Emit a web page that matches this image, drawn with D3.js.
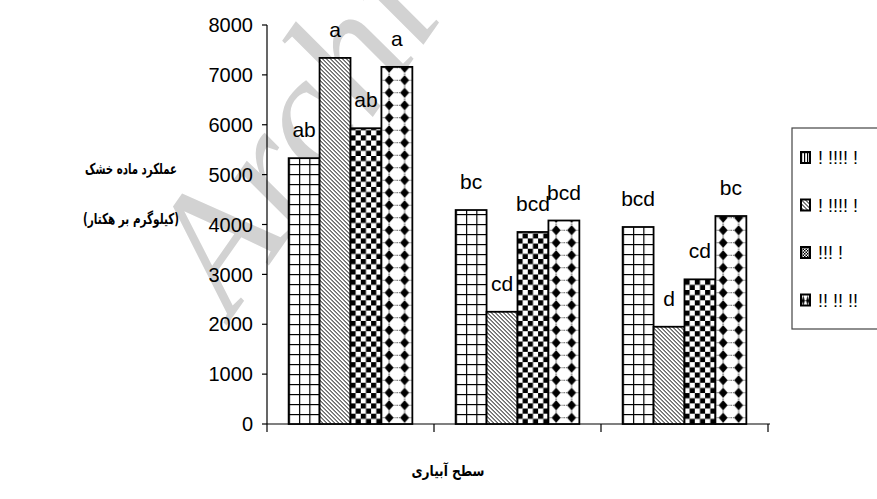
<!DOCTYPE html>
<html>
<head>
<meta charset="utf-8">
<script src="https://cdn.jsdelivr.net/npm/d3@7"></script>
<style>
  body { margin: 0; background: #fff; }
  svg { display: block; }
</style>
</head>
<body>
<div id="chart"></div>
<script>
// data
var groups = ["g1", "g2", "g3"];
var series = ["s1", "s2", "s3", "s4"];
var values = [
  [5330, 7340, 5930, 7160],
  [4290, 2250, 3850, 4080],
  [3950, 1950, 2900, 4170]
];
var letters = [
  ["ab", "a", "ab", "a"],
  ["bc", "cd", "bcd", "bcd"],
  ["bcd", "d", "cd", "bc"]
];
var legendNames = ["! !!!! !", "! !!!! !", "!!! !", "!! !! !!"];
var yTicks = [0, 1000, 2000, 3000, 4000, 5000, 6000, 7000, 8000];
var yTitle1 = "عملکرد ماده خشک";
var yTitle2 = "(کیلوگرم بر هکتار)";
var xTitle = "سطح آبیاری";

var width = 877;
var height = 499;

var svg = d3
  .select("#chart")
  .append("svg")
  .attr("width", width)
  .attr("height", height);

var defs = svg.append("defs");

// watermark behind everything
svg
  .append("text")
  .attr("transform", "translate(232,318) rotate(-55)")
  .attr("font-family", "Liberation Serif")
  .attr("font-style", "italic")
  .attr("font-size", 170)
  .attr("fill", "#d2d2d2")
  .text("Archive of SID");

var x0 = d3.scaleBand().domain(groups).range([267, 768]);
var x1 = d3
  .scaleBand()
  .domain(series)
  .range([0, x0.bandwidth()])
  .paddingInner(0)
  .paddingOuter(0.7);
var y = d3.scaleLinear().domain([0, 8000]).range([424, 25]);

// one pattern per bar so they line up with the bar edges
function makePattern(id, s, ox, oy, bw) {
  var p;
  if (s === 0) {
    p = defs.append("pattern").attr("id", id).attr("patternUnits", "userSpaceOnUse")
      .attr("width", bw / 3).attr("height", 10)
      .attr("patternTransform", "translate(" + ox + "," + oy + ")");
    p.append("rect").attr("width", bw / 3).attr("height", 10).attr("fill", "#fff");
    p.append("line").attr("x1", 0).attr("x2", 0).attr("y1", 0).attr("y2", 10)
      .attr("stroke", "#000").attr("stroke-width", 2.4);
    p.append("line").attr("x1", 0).attr("x2", bw / 3).attr("y1", 0).attr("y2", 0)
      .attr("stroke", "#000").attr("stroke-width", 2.4);
  } else if (s === 1) {
    p = defs.append("pattern").attr("id", id).attr("patternUnits", "userSpaceOnUse")
      .attr("width", 4).attr("height", 4)
      .attr("patternTransform", "translate(" + ox + "," + oy + ")");
    p.append("rect").attr("width", 4).attr("height", 4).attr("fill", "#fff");
    p.append("path").attr("d", "M-1,-1L5,5M-1,3L1,5M3,-1L5,1")
      .attr("stroke", "#000").attr("stroke-width", 1);
  } else if (s === 2) {
    var c = bw / 6;
    p = defs.append("pattern").attr("id", id).attr("patternUnits", "userSpaceOnUse")
      .attr("width", c * 2).attr("height", c * 2)
      .attr("patternTransform", "translate(" + ox + "," + oy + ")");
    p.append("rect").attr("width", c * 2).attr("height", c * 2).attr("fill", "#fff");
    p.append("rect").attr("width", c).attr("height", c).attr("fill", "#000");
    p.append("rect").attr("x", c).attr("y", c).attr("width", c).attr("height", c).attr("fill", "#000");
  } else {
    var w = bw / 2, h = 12.5;
    p = defs.append("pattern").attr("id", id).attr("patternUnits", "userSpaceOnUse")
      .attr("width", w).attr("height", h)
      .attr("patternTransform", "translate(" + ox + "," + oy + ")");
    p.append("rect").attr("width", w).attr("height", h).attr("fill", "#fff");
    p.append("line").attr("x1", 0).attr("x2", w).attr("y1", h / 2).attr("y2", h / 2)
      .attr("stroke", "#000").attr("stroke-width", 0.7).attr("stroke-dasharray", "1,1");
    p.append("line").attr("x1", w / 2).attr("x2", w / 2).attr("y1", 0).attr("y2", h)
      .attr("stroke", "#000").attr("stroke-width", 0.7).attr("stroke-dasharray", "1,1");
    var r = Math.min(4.5, w / 3);
    p.append("path")
      .attr("d", "M" + w / 2 + "," + (h / 2 - 5) + "L" + (w / 2 + r) + "," + h / 2 +
        "L" + w / 2 + "," + (h / 2 + 5) + "L" + (w / 2 - r) + "," + h / 2 + "Z")
      .attr("fill", "#000");
  }
}

// axes
svg.append("line").attr("x1", 267).attr("x2", 267).attr("y1", y(8000)).attr("y2", y(0))
  .attr("stroke", "#000").attr("stroke-width", 1.2);
svg.append("line").attr("x1", 267).attr("x2", 770).attr("y1", y(0)).attr("y2", y(0))
  .attr("stroke", "#000").attr("stroke-width", 1.2);

svg.selectAll(".ytick")
  .data(yTicks)
  .enter()
  .append("line")
  .attr("x1", 262).attr("x2", 267)
  .attr("y1", d => y(d)).attr("y2", d => y(d))
  .attr("stroke", "#000").attr("stroke-width", 1.2);

svg.selectAll(".ylab")
  .data(yTicks)
  .enter()
  .append("text")
  .attr("x", 253)
  .attr("y", d => y(d))
  .attr("dy", "0.36em")
  .attr("text-anchor", "end")
  .attr("font-family", "Liberation Sans")
  .attr("font-size", 20)
  .attr("fill", "#000")
  .text(d => d);

var xt = groups.map(g => x0(g)).concat([x0.range()[1]]);
svg.selectAll(".xtick")
  .data(xt)
  .enter()
  .append("line")
  .attr("x1", d => d).attr("x2", d => d)
  .attr("y1", y(0)).attr("y2", y(0) + 8)
  .attr("stroke", "#000").attr("stroke-width", 1.2);

// bars
var bars = [];
values.forEach(function(row, gi) {
  row.forEach(function(v, si) {
    bars.push({ g: groups[gi], s: si, v: v, label: letters[gi][si] });
  });
});

bars.forEach(function(d, i) {
  makePattern("pat" + i, d.s, x0(d.g) + x1(series[d.s]), y(0), x1.bandwidth());
});

svg.selectAll(".bar")
  .data(bars)
  .enter()
  .append("rect")
  .attr("x", d => x0(d.g) + x1(series[d.s]))
  .attr("y", d => y(d.v))
  .attr("width", x1.bandwidth())
  .attr("height", d => y(0) - y(d.v))
  .attr("fill", (d, i) => "url(#pat" + i + ")")
  .attr("stroke", "#000")
  .attr("stroke-width", 1.8);

svg.selectAll(".lab")
  .data(bars)
  .enter()
  .append("text")
  .attr("x", d => x0(d.g) + x1(series[d.s]) + x1.bandwidth() / 2)
  .attr("y", d => y(d.v) - 21)
  .attr("text-anchor", "middle")
  .attr("font-family", "Liberation Sans")
  .attr("font-size", 21)
  .attr("fill", "#000")
  .text(d => d.label);

// titles
svg.append("text")
  .attr("x", 131).attr("y", 174)
  .attr("text-anchor", "middle")
  .attr("font-family", "DejaVu Sans")
  .attr("font-weight", "bold")
  .attr("font-size", 15)
  .attr("textLength", 92)
  .attr("lengthAdjust", "spacingAndGlyphs")
  .text(yTitle1);
svg.append("text")
  .attr("x", 131).attr("y", 224)
  .attr("text-anchor", "middle")
  .attr("font-family", "DejaVu Sans")
  .attr("font-weight", "bold")
  .attr("font-size", 15)
  .attr("textLength", 96)
  .attr("lengthAdjust", "spacingAndGlyphs")
  .text(yTitle2);
svg.append("text")
  .attr("x", 448).attr("y", 476)
  .attr("text-anchor", "middle")
  .attr("font-family", "DejaVu Sans")
  .attr("font-weight", "bold")
  .attr("font-size", 15)
  .attr("textLength", 73)
  .attr("lengthAdjust", "spacingAndGlyphs")
  .text(xTitle);

// legend
svg.append("rect")
  .attr("x", 792).attr("y", 128)
  .attr("width", 120).attr("height", 201)
  .attr("fill", "#fff")
  .attr("stroke", "#444")
  .attr("stroke-width", 1.2);

legendNames.forEach(function(name, i) {
  var ly = 158 + i * 47.5;
  makePattern("lpat" + i, i, 801, ly - 6, 9);
  svg.append("rect")
    .attr("x", 801).attr("y", ly - 6)
    .attr("width", 9).attr("height", 11)
    .attr("fill", "url(#lpat" + i + ")")
    .attr("stroke", "#000").attr("stroke-width", 2);
  svg.append("text")
    .attr("x", 818).attr("y", ly + 6)
    .attr("font-family", "Liberation Sans")
    .attr("font-size", 18)
    .attr("fill", "#000")
    .text(name);
});
</script>
</body>
</html>
